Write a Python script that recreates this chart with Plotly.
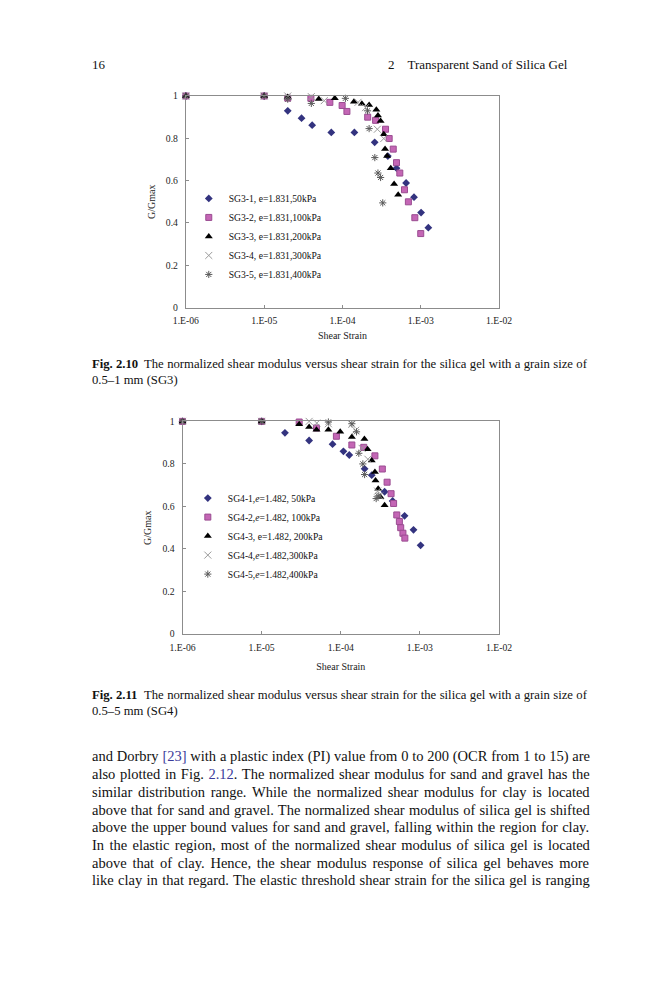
import plotly.graph_objects as go

W, H = 659, 1000


def px(x):
    return x / W


def py(y):
    return 1 - y / H


# ---------------- data: Fig. 2.10 (SG3) ----------------
sg3_names = [
    "SG3-1, e=1.831,50kPa",
    "SG3-2, e=1.831,100kPa",
    "SG3-3, e=1.831,200kPa",
    "SG3-4, e=1.831,300kPa",
    "SG3-5, e=1.831,400kPa",
]
sg3_1_strain = [1e-6, 1e-5, 2.0e-5, 3.0e-5, 4.1e-5, 7.2e-5, 1.42e-4, 2.58e-4, 3.8e-4, 4.9e-4, 6.5e-4, 8.2e-4, 1.01e-3, 1.25e-3]
sg3_1_g = [1, 1, 0.93, 0.895, 0.862, 0.828, 0.828, 0.781, 0.716, 0.659, 0.589, 0.522, 0.449, 0.378]
sg3_2_strain = [1e-6, 1e-5, 2.0e-5, 3.95e-5, 6.9e-5, 9.9e-5, 1.14e-4, 2.1e-4, 2.65e-4, 3.55e-4, 3.95e-4, 4.45e-4, 4.9e-4, 5.4e-4, 6.2e-4, 6.95e-4, 8.4e-4, 1.0e-3]
sg3_2_g = [1, 1, 0.99, 0.989, 0.97, 0.955, 0.927, 0.90, 0.885, 0.843, 0.799, 0.749, 0.685, 0.636, 0.557, 0.5, 0.425, 0.35]
sg3_3_strain = [1e-6, 1e-5, 2.0e-5, 4.98e-5, 7.98e-5, 1.4e-4, 1.77e-4, 2.19e-4, 2.71e-4, 2.84e-4, 3.07e-4, 3.37e-4, 3.5e-4, 3.72e-4, 4.14e-4, 4.57e-4, 5.15e-4]
sg3_3_g = [1, 1, 0.995, 0.986, 0.989, 0.973, 0.963, 0.958, 0.935, 0.908, 0.882, 0.819, 0.749, 0.716, 0.659, 0.584, 0.534]
sg3_4_strain = [1e-6, 1e-5, 2.0e-5, 4.0e-5, 5.85e-5, 1.58e-4, 1.97e-4, 2.79e-4, 3.37e-4]
sg3_4_g = [1, 1, 1.0, 0.997, 0.978, 0.97, 0.945, 0.843, 0.799]
sg3_5_strain = [1e-6, 1e-5, 2.0e-5, 4.0e-5, 1.09e-4, 2.09e-4, 2.19e-4, 2.59e-4, 2.84e-4, 3.07e-4, 3.27e-4]
sg3_5_g = [1, 1, 0.985, 0.965, 0.989, 0.93, 0.846, 0.709, 0.636, 0.615, 0.495]

# ---------------- data: Fig. 2.11 (SG4) ----------------
sg4_names = [
    "SG4-1,<i>e</i>=1.482, 50kPa",
    "SG4-2,<i>e</i>=1.482, 100kPa",
    "SG4-3, e=1.482, 200kPa",
    "SG4-4,<i>e</i>=1.482,300kPa",
    "SG4-5,<i>e</i>=1.482,400kPa",
]
sg4_1_strain = [1e-6, 1e-5, 1.97e-5, 3.98e-5, 7.87e-5, 1.08e-4, 1.28e-4, 2.0e-4, 2.46e-4, 3.58e-4, 4.52e-4, 6.4e-4, 8.3e-4, 1.02e-3]
sg4_1_g = [1, 1, 0.946, 0.91, 0.893, 0.859, 0.842, 0.777, 0.747, 0.669, 0.626, 0.556, 0.49, 0.417]
sg4_2_strain = [1e-6, 1e-5, 2.98e-5, 4.93e-5, 8.8e-5, 1.38e-4, 1.95e-4, 2.7e-4, 3.35e-4, 3.85e-4, 4.32e-4, 4.65e-4, 5.1e-4, 5.5e-4, 5.72e-4, 6.1e-4, 6.45e-4]
sg4_2_g = [1, 1, 0.997, 0.969, 0.93, 0.889, 0.878, 0.838, 0.776, 0.714, 0.66, 0.614, 0.56, 0.529, 0.5, 0.474, 0.451]
sg4_3_strain = [1e-6, 1e-5, 2.98e-5, 3.98e-5, 4.93e-5, 6.97e-5, 9.84e-5, 1.38e-4, 1.99e-4, 2.18e-4, 2.46e-4, 2.7e-4, 2.75e-4, 2.97e-4, 3.17e-4, 3.58e-4]
sg4_3_g = [1, 1, 0.986, 0.974, 0.961, 0.961, 0.951, 0.927, 0.917, 0.869, 0.816, 0.762, 0.722, 0.683, 0.644, 0.606]
sg4_4_strain = [1e-6, 1e-5, 3.98e-5, 4.97e-5, 6.97e-5, 1.38e-4, 1.54e-4, 1.86e-4, 2.2e-4, 2.92e-4, 3.1e-4]
sg4_4_g = [1, 1, 1.0, 0.992, 0.989, 0.986, 0.958, 0.873, 0.822, 0.672, 0.649]
sg4_5_strain = [1e-6, 1e-5, 6.97e-5, 1.38e-4, 1.58e-4, 1.69e-4, 1.9e-4, 2.0e-4, 2.8e-4, 2.97e-4]
sg4_5_g = [1, 1, 0.997, 0.989, 0.951, 0.85, 0.80, 0.75, 0.637, 0.649]

x_tickvals = [1e-6, 1e-5, 1e-4, 1e-3, 1e-2]
x_ticktext = ["1.E-06", "1.E-05", "1.E-04", "1.E-03", "1.E-02"]
y_tickvals = [0, 0.2, 0.4, 0.6, 0.8, 1]
y_ticktext = ["0", "0.2", "0.4", "0.6", "0.8", "1"]

# ---------------- text ----------------
header_left = "16"
header_right = "2\u2003Transparent Sand of Silica Gel"
cap1_label = "Fig. 2.10"
cap1_line1 = "The normalized shear modulus versus shear strain for the silica gel with a grain size of"
cap1_line2 = "0.5–1 mm (SG3)"
cap2_label = "Fig. 2.11"
cap2_line1 = "The normalized shear modulus versus shear strain for the silica gel with a grain size of"
cap2_line2 = "0.5–5 mm (SG4)"
body_lines = [
    [("and Dorbry ", None), ("[23]", "#3b3b9a"), (" with a plastic index (PI) value from 0 to 200 (OCR from 1 to 15) are", None)],
    [("also plotted in Fig. ", None), ("2.12", "#3b3b9a"), (". The normalized shear modulus for sand and gravel has the", None)],
    [("similar distribution range. While the normalized shear modulus for clay is located", None)],
    [("above that for sand and gravel. The normalized shear modulus of silica gel is shifted", None)],
    [("above the upper bound values for sand and gravel, falling within the region for clay.", None)],
    [("In the elastic region, most of the normalized shear modulus of silica gel is located", None)],
    [("above that of clay. Hence, the shear modulus response of silica gel behaves more", None)],
    [("like clay in that regard. The elastic threshold shear strain for the silica gel is ranging", None)],
]

# ---------------- styles ----------------
SERIF = "Liberation Serif"
AXIS_COLOR = "#8c8c8c"
series_styles = [
    dict(symbol="diamond", size=6, color="#33337f", line=dict(width=0)),
    dict(symbol="square", size=6, color="#c466b5", line=dict(width=1, color="#9a4c91")),
    dict(symbol="triangle-up", size=7, color="#000000", line=dict(width=0)),
    dict(symbol="x-thin-open", size=7, color="#9a9a9a", line=dict(width=1, color="#9a9a9a")),
    dict(symbol="asterisk-open", size=6, color="#5a5a5a", line=dict(width=1, color="#5a5a5a")),
]

fig = go.Figure()

sg3 = [(sg3_1_strain, sg3_1_g), (sg3_2_strain, sg3_2_g), (sg3_3_strain, sg3_3_g),
       (sg3_4_strain, sg3_4_g), (sg3_5_strain, sg3_5_g)]
sg4 = [(sg4_1_strain, sg4_1_g), (sg4_2_strain, sg4_2_g), (sg4_3_strain, sg4_3_g),
       (sg4_4_strain, sg4_4_g), (sg4_5_strain, sg4_5_g)]

for i, (xs, ys) in enumerate(sg3):
    fig.add_trace(go.Scatter(x=xs, y=ys, mode="markers", name=sg3_names[i],
                             marker=series_styles[i], xaxis="x", yaxis="y",
                             legend="legend", cliponaxis=False))
for i, (xs, ys) in enumerate(sg4):
    fig.add_trace(go.Scatter(x=xs, y=ys, mode="markers", name=sg4_names[i],
                             marker=series_styles[i], xaxis="x2", yaxis="y2",
                             legend="legend2", cliponaxis=False))

tick_font = dict(family=SERIF, size=9.7, color="#222222")
title_font = dict(family=SERIF, size=10, color="#222222")


def xaxis_cfg(domain, anchor, standoff):
    return dict(type="log", range=[-6, -2], domain=domain, anchor=anchor,
                tickvals=x_tickvals, ticktext=x_ticktext, ticks="inside", ticklen=3,
                tickcolor=AXIS_COLOR, showline=True, linecolor=AXIS_COLOR, linewidth=1,
                mirror=True, showgrid=False, zeroline=False, tickfont=tick_font,
                ticklabelstandoff=4,
                title=dict(text="Shear Strain", font=title_font, standoff=standoff))


def yaxis_cfg(domain, anchor):
    return dict(range=[0, 1], domain=domain, anchor=anchor,
                tickvals=y_tickvals, ticktext=y_ticktext, ticks="inside", ticklen=3,
                tickcolor=AXIS_COLOR, showline=True, linecolor=AXIS_COLOR, linewidth=1,
                mirror=True, showgrid=False, zeroline=False, tickfont=tick_font,
                ticklabelstandoff=5,
                title=dict(text="G/Gmax", font=title_font, standoff=8))


legend_font = dict(family=SERIF, size=9.6, color="#111111")

fig.update_layout(
    width=W, height=H,
    margin=dict(l=0, r=0, t=0, b=0),
    paper_bgcolor="white", plot_bgcolor="white",
    showlegend=True,
    hovermode=False,
    xaxis=xaxis_cfg([px(180), px(506)], "y", 6),
    yaxis=yaxis_cfg([py(305), py(91)], "x"),
    xaxis2=xaxis_cfg([px(176.5), px(506)], "y2", 11),
    yaxis2=yaxis_cfg([py(635), py(420)], "x2"),
    legend=dict(x=px(183), y=py(233), xanchor="left", yanchor="middle",
                bgcolor="rgba(0,0,0,0)", font=legend_font, borderwidth=0),
    legend2=dict(x=px(182), y=py(536), xanchor="left", yanchor="middle",
                 bgcolor="rgba(0,0,0,0)", font=legend_font, borderwidth=0),
)

# ---------- text justification helper (Times metrics) ----------
TIMES = {" ": 250, "!": 333, "(": 333, ")": 333, ",": 250, "-": 333, ".": 250, "[": 333, "]": 333,
         "–": 500, ":": 278, ";": 278, "=": 564}
for c in "0123456789":
    TIMES[c] = 500
TIMES.update(dict(zip("ABCDEFGHIJKLMNOPQRSTUVWXYZ",
                      [722, 667, 667, 722, 611, 556, 722, 722, 333, 389, 722, 611, 889, 722, 722,
                       556, 722, 667, 556, 611, 722, 722, 944, 722, 722, 611])))
TIMES.update(dict(zip("abcdefghijklmnopqrstuvwxyz",
                      [444, 500, 444, 500, 444, 333, 500, 500, 278, 278, 500, 278, 778, 500, 500,
                       500, 500, 333, 389, 278, 500, 500, 722, 500, 500, 444])))


def natural_width(text, size):
    return sum(TIMES.get(c, 500) for c in text) * size / 1000.0


def justified(segments, size, target):
    full = "".join(t for t, _ in segments)
    nat = natural_width(full, size)
    spaces = full.count(" ")
    ws = (target - nat) / spaces if spaces else 0
    out = ""
    for t, col in segments:
        style = "word-spacing:%.2fpx" % ws
        if col:
            style += ";color:%s" % col
        out += '<span style="%s">%s</span>' % (style, t)
    return out


annotations = []


def add_text(text, x, y, size, anchor="left", bold=False):
    annotations.append(dict(
        text=("<b>%s</b>" % text) if bold else text,
        x=px(x), y=py(y), xref="paper", yref="paper",
        xanchor=anchor, yanchor="middle", showarrow=False, borderpad=0,
        font=dict(family=SERIF, size=size, color="#111111"), align="left"))


# header
add_text(header_left, 81, 59, 13)
add_text(header_right, 579, 59, 13, anchor="right")

# captions
CAP = 12.7
add_text(cap1_label, 81, 362, CAP, bold=True)
add_text(justified([(cap1_line1, None)], CAP, 579 - 135.5), 135.5, 362, CAP)
add_text(cap1_line2, 81, 378, CAP)
add_text(cap2_label, 81, 697, CAP, bold=True)
add_text(justified([(cap2_line1, None)], CAP, 579 - 135.5), 135.5, 697, CAP)
add_text(cap2_line2, 81, 713, CAP)

# body
BODY = 14.5
for i, segs in enumerate(body_lines):
    add_text(justified(segs, BODY, 579 - 81), 81, 759 + 17.86 * i, BODY)

fig.update_layout(annotations=annotations)

fig.write_html("out.html", config={"displayModeBar": False},
               post_script="document.body.style.margin='0px';")
